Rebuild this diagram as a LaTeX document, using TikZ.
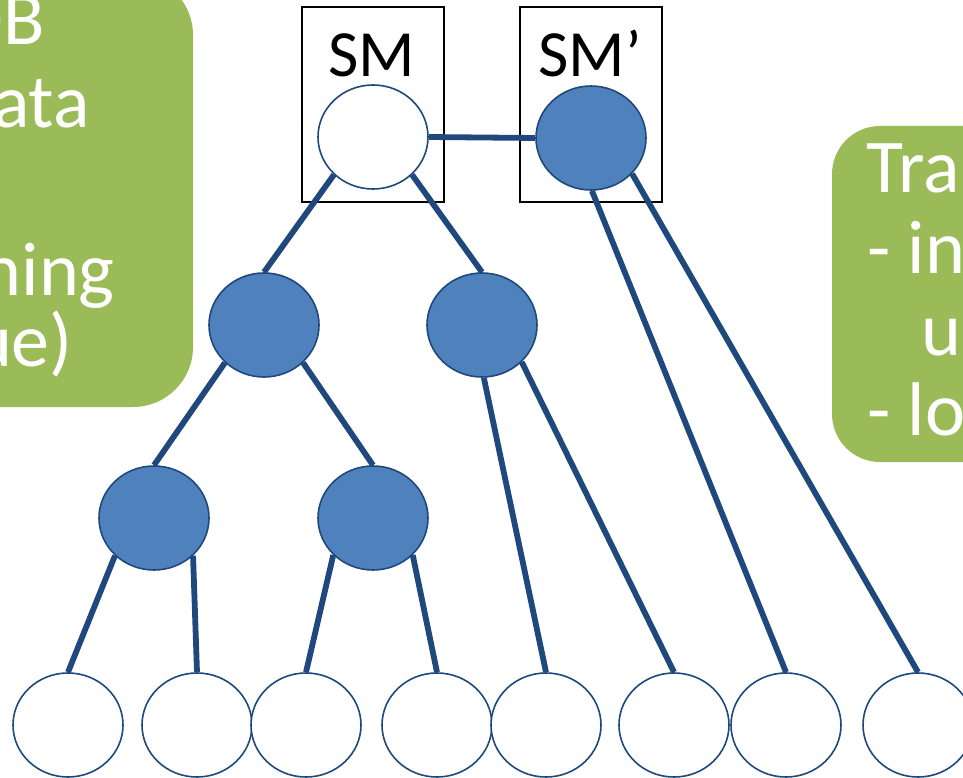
\documentclass[tikz,border=0pt]{standalone}
\usepackage{fontspec}
\setmainfont{Carlito}
\usetikzlibrary{shapes.geometric}
\definecolor{nodeblue}{HTML}{4F81BD}
\definecolor{edgeblue}{HTML}{1F497D}
\definecolor{boxgreen}{HTML}{9BBB59}
\begin{document}
\begin{tikzpicture}[x=1pt,y=-1pt,
  tnode/.style={ellipse, draw=edgeblue, line width=1.6pt, minimum width=110pt, minimum height=104pt, inner sep=0pt},
  full/.style={tnode, fill=nodeblue},
  empty/.style={tnode, fill=white},
  link/.style={draw=edgeblue, line width=5.8pt},
  smbox/.style={draw=black, line width=1.8pt, minimum width=142pt, minimum height=195pt, inner sep=0pt},
  gtext/.style={text=white, font=\fontsize{76}{80}\selectfont, inner sep=0pt},
  smtext/.style={font=\fontsize{66}{66}\selectfont, inner sep=0pt}]
\useasboundingbox (0,0) rectangle (963,778);

% green boxes
\fill[boxgreen, rounded corners=60pt] (-120,-25) rectangle (193,407);
\fill[boxgreen, rounded corners=48pt] (832,126) rectangle (1100,462);

\node[gtext, anchor=base east] (t1) at (45,45) {DB};
\node[gtext, anchor=base east] (t2) at (90,128) {ata};
\node[gtext, anchor=base east] (t3) at (115,295) {ning};
\node[gtext, anchor=base east] (t4) at (73,366) {ue)};

\node[gtext, anchor=base west] (r1) at (866,193) {Tra};
\node[gtext, anchor=base west] (r2) at (867,273) {- in};
\node[gtext, anchor=base west] (r3) at (921,355) {up};
\node[gtext, anchor=base west] (r4) at (867,435) {- lo};

% SM boxes
\node[smbox] (smb) at (373,104.5) {};
\node[smbox] (smpb) at (591,104.5) {};
\node[smtext, anchor=base] (sml) at (372,77) {SM};
\node[smtext, anchor=base] (smpl) at (590,77) {SM’};

% tree nodes
\node[empty] (root) at (373,137) {};
\node[full] (smp) at (591,138) {};
\node[full] (a) at (264,325) {};
\node[full] (b) at (482,325) {};
\node[full] (c) at (154,518) {};
\node[full] (d) at (373,518) {};
\node[empty] (l1) at (68,725) {};
\node[empty] (l2) at (197,725) {};
\node[empty] (l3) at (306,725) {};
\node[empty] (l4) at (437,725) {};
\node[empty] (l5) at (546,725) {};
\node[empty] (l6) at (674,725) {};
\node[empty] (l7) at (786,725) {};
\node[empty] (l8) at (918,725) {};

% connectors
\draw[link] (root.east) -- (smp.west);
\draw[link] (root.-136) -- (a.north);
\draw[link] (root.-44) -- (b.north);
\draw[link] (a.-136) -- (c.north);
\draw[link] (a.-44) -- (d.north);
\draw[link] (b.-88) -- (l5.north);
\draw[link] (b.-43) -- (l6.north);
\draw[link] (smp.-89) -- (l7.north);
\draw[link] (smp.-41) -- (l8.north);
\draw[link] (c.-136) -- (l1.north);
\draw[link] (c.-44) -- (l2.north);
\draw[link] (d.-137) -- (l3.north);
\draw[link] (d.-43) -- (l4.north);
\end{tikzpicture}
\end{document}
